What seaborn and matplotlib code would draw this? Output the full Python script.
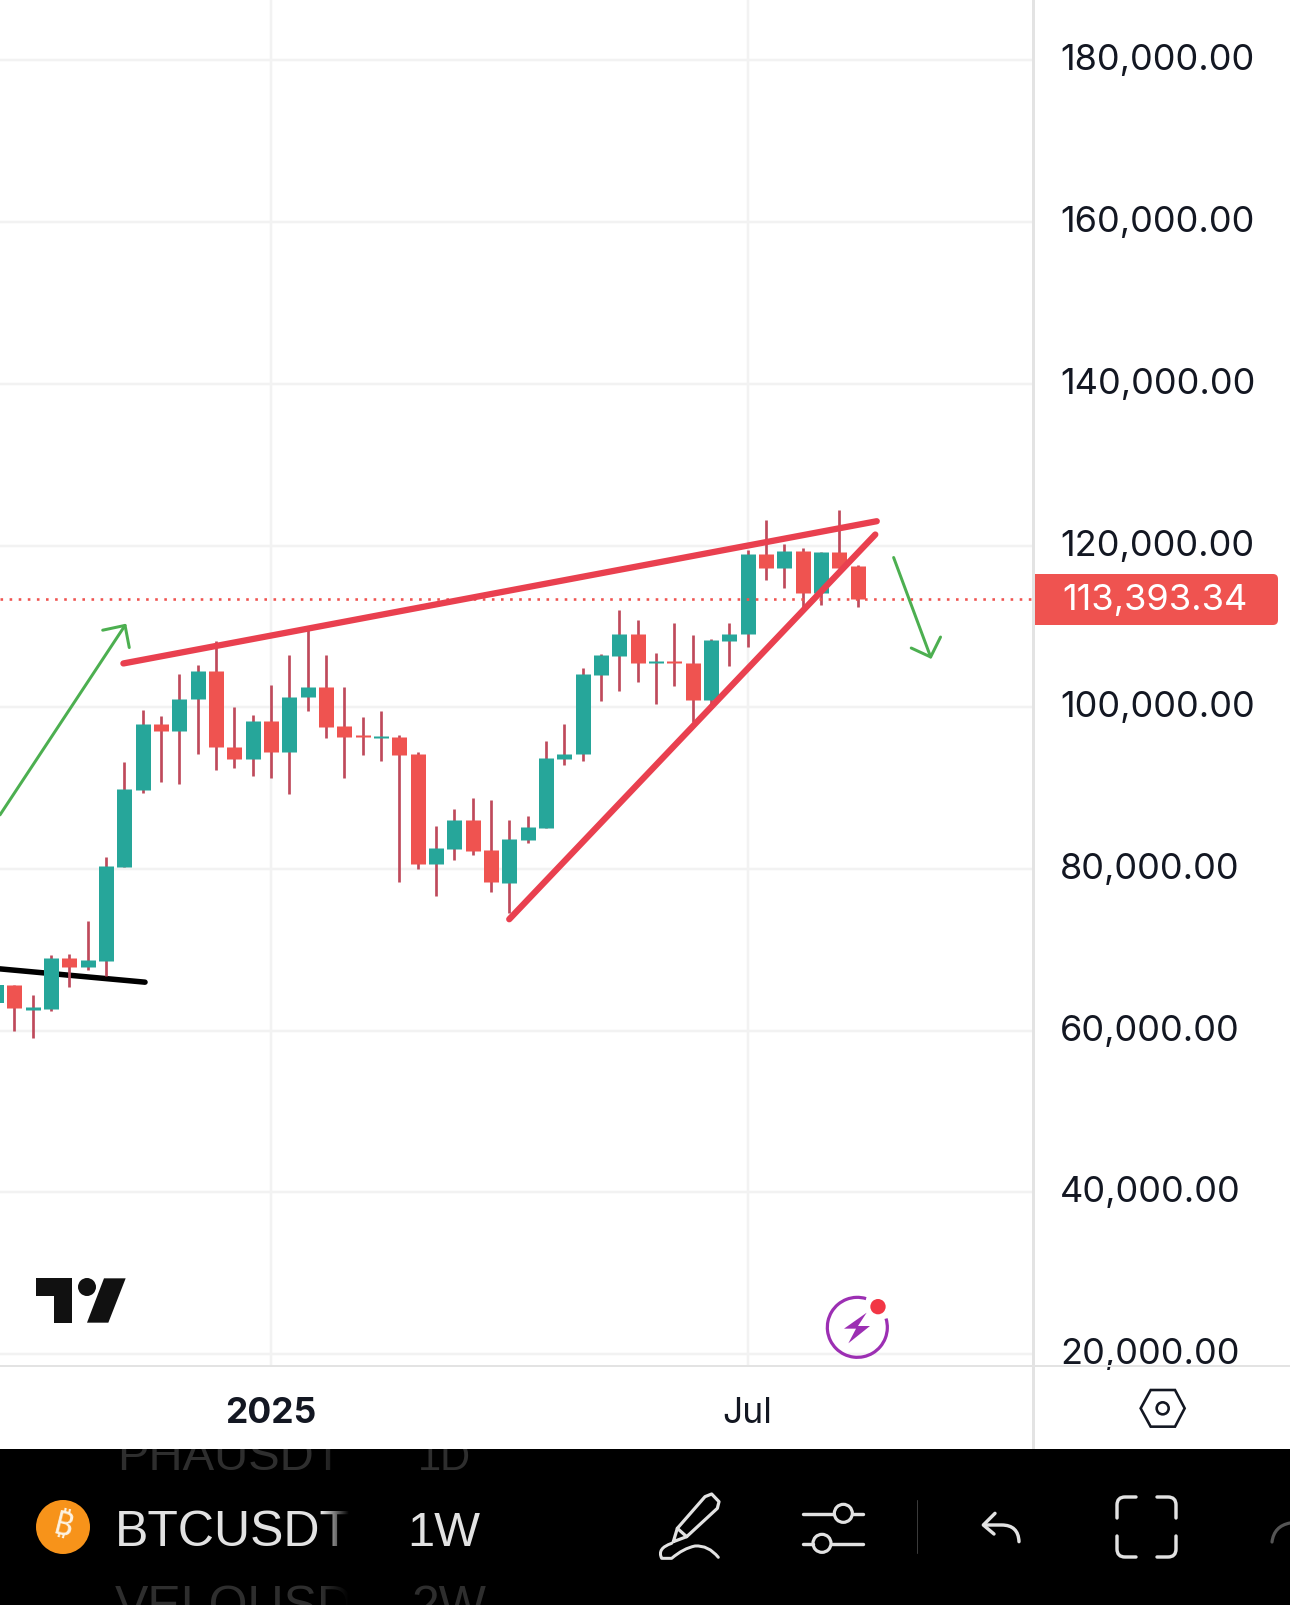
import numpy as np
import pandas as pd
import seaborn as sns
import matplotlib
matplotlib.use("Agg")
import matplotlib.pyplot as plt
from matplotlib.patches import Rectangle, Circle, Polygon, Arc, PathPatch, FancyBboxPatch
from matplotlib.path import Path
from matplotlib import transforms as mtrans

# ---------- data ----------
opens = [63492,65685,62626,62717,69019,67878,68654,80300,89800,97883,97061,101034,
         104459,95143,93635,98340,94504,101263,102541,97654,96513,96147,96284,94184,
         80666,82492,86055,82355,78316,83583,85105,93623,94200,103952,106298,109014,
         105475,105763,105516,100866,108191,109014,119013,117161,119383,114116,119260,117408]
closes = [65685,62808,62945,69019,67878,68745,80346,89891,97883,97061,101080,104459,
          95143,93635,98340,94504,101308,102541,97563,96330,96284,96421,94092,80666,
          82538,86055,82264,78336,83666,85146,93665,94282,104076,106421,109014,105475,
          105763,105516,100866,108273,109096,119013,117161,119383,114116,119260,117244,113393]
highs = [65900,65685,64452,69340,69476,73588,81534,93225,99618,98888,104094,105190,
         108159,100030,99024,102724,106423,109757,106423,102450,98750,99527,96513,94413,
         85324,87424,88749,88521,86052,86546,95805,97903,104899,106627,111977,110742,
         106750,110454,108890,108478,110454,119466,123210,120207,119671,119260,124445,117531]
lows = [63100,59977,59063,62444,65366,67513,66827,80300,89389,90805,90484,94229,
        92266,92494,91489,91261,89297,99573,96238,91261,94092,93316,78336,79981,
        76646,81122,81670,77205,74612,83171,85105,92841,93377,100784,102018,103129,
        100372,102635,98191,100042,105105,107450,115762,114733,112182,112594,117244,112388]
last_price = 113393.34
price_ticks = [20000,40000,60000,80000,100000,120000,140000,160000,180000]
week_ticks = [15, 41]
week_labels = ["2025", "Jul"]

upper_trend_x, upper_trend_y = [6.95, 48.05], [105418, 123005]
lower_trend_x, lower_trend_y = [28.0, 47.97], [73788, 121359]
black_trend_x, black_trend_y = [0.218, 8.13], [67650, 66005]
up_arrow_x, up_arrow_y = [0.218, 7.04], [86694, 110122]
up_head_x, up_head_y = [5.82, 7.04, 7.27], [109529, 110122, 107382]
down_arrow_x, down_arrow_y = [48.97, 50.99], [118519, 106215]
down_head_x, down_head_y = [49.93, 50.99, 51.53], [107326, 106215, 108684]

TEAL, RED, WICK = "#26a69a", "#ef5350", "#bf4a5b"
TREND, GREEN, INK = "#e9404f", "#4caf50", "#131722"
GRID, EDGE = "#f2f2f2", "#e3e3e3"

# ---------- frame ----------
sns.set_theme(style="white")
plt.rcParams["font.family"] = ["Inter", "DejaVu Sans"]
W, H = 1290, 1605
PT = 0.72
fig = plt.figure(figsize=(W / 100, H / 100), dpi=100, facecolor="white")
def box(x0, y0, x1, y1):
    return [x0 / W, 1 - y1 / H, (x1 - x0) / W, (y1 - y0) / H]

AX_R, AX_B = 1033, 1366
PX_PER_20K = 161.74
ax = fig.add_axes(box(0, 0, AX_R, AX_B), zorder=1)
ax.set_facecolor("white")
XLIM = (1 - 14.33 / 18.33, 1 + (AX_R - 14.33) / 18.33)
YLIM = (80000 - (AX_B - 869) * 20000 / PX_PER_20K, 80000 + 869 * 20000 / PX_PER_20K)
sns.despine(ax=ax, left=True, bottom=True, right=True, top=True)

idx = np.arange(len(opens))
df = pd.DataFrame(dict(i=idx, o=opens, h=highs, l=lows, c=closes))
df["dir"] = np.where(df.c >= df.o, "up", "down")
wicks = df.melt(id_vars=["i"], value_vars=["h", "l"], value_name="price")
bodies = df.melt(id_vars=["i", "dir"], value_vars=["o", "c"], value_name="price")

def seg(x, y, color, lw_px, z, cap="round", **kw):
    sns.lineplot(x=x, y=y, color=color, lw=lw_px * PT, ax=ax, sort=False, estimator=None,
                 solid_capstyle=cap, solid_joinstyle="round", zorder=z, legend=False, **kw)

seg(black_trend_x, black_trend_y, "black", 5.5, 1.5)
sns.lineplot(data=wicks, x="i", y="price", units="i", estimator=None, color=WICK,
             lw=2.7 * PT, solid_capstyle="butt", ax=ax, zorder=2, legend=False)
sns.lineplot(data=bodies, x="i", y="price", units="i", estimator=None, hue="dir",
             palette={"up": TEAL, "down": RED}, lw=15 * PT, solid_capstyle="butt",
             ax=ax, zorder=3, legend=False)
# the first body's centre lies off the canvas, where a stroked line is culled: fill it as a bar
first = df.iloc[0]
ax.bar(first.i, first.c - first.o, bottom=first.o, width=15 / 18.33, color=TEAL, lw=0, zorder=3)
ax.axhline(last_price, color=RED, lw=2.6 * PT, ls=(0, (1.0, 2.5)), zorder=4)
seg(upper_trend_x, upper_trend_y, TREND, 6.3, 5)
seg(lower_trend_x, lower_trend_y, TREND, 6.3, 5)
for xs, ys in [(up_arrow_x, up_arrow_y), (up_head_x, up_head_y),
               (down_arrow_x, down_arrow_y), (down_head_x, down_head_y)]:
    seg(xs, ys, GREEN, 3, 5)
ax.set_xlabel(""); ax.set_ylabel("")
ax.set_xlim(XLIM); ax.set_ylim(YLIM)

ax.set_xticks(week_ticks)
ax.set_yticks(price_ticks, [f"{v:,.2f}" for v in price_ticks])
ax.yaxis.tick_right()
ax.tick_params(axis="x", length=0, labelbottom=False)
ax.tick_params(axis="y", length=0, pad=27 * PT, labelsize=26, labelcolor=INK)
shift = mtrans.ScaledTranslation(0, 3 / 100, fig.dpi_scale_trans)
for t in ax.get_yticklabels():
    t.set_transform(t.get_transform() + shift)
ax.grid(True, color=GRID, lw=2.5 * PT)
ax.set_axisbelow(True)

# time-scale strip
strip = fig.add_axes(box(0, AX_B, AX_R, 1449), zorder=2)
strip.set_facecolor("white")
strip.set_xlim(XLIM); strip.set_yticks([])
strip.set_xticks(week_ticks, week_labels)
strip.tick_params(axis="x", length=0, pad=-52 * PT, labelsize=25.5, labelcolor=INK)
strip.get_xticklabels()[0].set_fontweight("bold")
strip.grid(False)
sns.despine(ax=strip, left=True, bottom=True, right=True, top=True)

# ---------- overlay in pixel coordinates (app chrome) ----------
ov = fig.add_axes([0, 0, 1, 1], zorder=3)
ov.set_xlim(0, W); ov.set_ylim(H, 0); ov.axis("off"); ov.patch.set_alpha(0)

ov.add_patch(Rectangle((1033 - 1.5, 0), 3, 1449, color=EDGE, lw=0))
ov.add_patch(Rectangle((0, 1364.7), W, 2.6, color=EDGE, lw=0))

# last-price tag
ov.add_patch(Rectangle((1035, 574), 225, 51, color=RED, lw=0))
ov.add_patch(FancyBboxPatch((1250, 574), 28, 51, boxstyle="round,pad=0,rounding_size=5",
                            fc=RED, ec="none", lw=0))
ov.text(1062, 610, f"{last_price:,.2f}", color="white", fontsize=26, va="baseline", ha="left")

# TradingView logo
z4 = lambda x, y: (x / 3, 1260 + y / 3)
ov.add_patch(Polygon([z4(*p) for p in [(108,55),(216,55),(216,188),(162,188),(162,108),(108,108)]], fc="#111111", lw=0))
ov.add_patch(Polygon([z4(*p) for p in [(312,55),(377,55),(325,188),(261,188)]], fc="#111111", lw=0))
ov.add_patch(Circle(z4(261, 81), 27 / 3, fc="#111111", lw=0))

# lightning badge
z5 = lambda x, y: (640 + x / 3, 1280 + y / 3)
PURPLE = "#9c2fb3"
ov.add_patch(Arc(z5(652, 142), 60, 60, theta1=-17, theta2=287, color=PURPLE, lw=3.2 * PT))
ov.add_patch(Polygon([z5(*p) for p in [(680,98),(612,146),(648,146),(625,190),(690,138),(654,138)]], fc=PURPLE, lw=0))
ov.add_patch(Circle(z5(714, 80), 23 / 3, fc="#f23645", lw=0))

# hexagon settings icon
z7 = lambda x, y: (1020 + x / 3, 1290 + y / 3)
ov.add_patch(Polygon([z7(*p) for p in [(362,355),(392,300),(465,300),(494,355),(465,410),(392,410)]],
                     fc="none", ec=INK, lw=2.6 * PT, joinstyle="miter"))
ov.add_patch(Circle(z7(428, 355), 18 / 3, fc="none", ec=INK, lw=2.6 * PT))

# bottom black bar
bar = Rectangle((0, 1449), W, H - 1449, fc="black", lw=0)
ov.add_patch(bar)
LIGHT, DIM = "#e2e2e2", "#2e2e2e"
for x, y, s, c, fs in [(117, 1470, "PHAUSDT", DIM, 34), (418, 1470, "1D", DIM, 30),
                       (115, 1621, "VELOUSDT", DIM, 36), (411, 1621, "2W", DIM, 36),
                       (115, 1546, "BTCUSDT", LIGHT, 36), (407, 1546, "1W", LIGHT, 35)]:
    t = ov.text(x, y, s, color=c, fontsize=fs, family="Liberation Sans", va="baseline", ha="left")
    t.set_clip_on(True)
    t.set_clip_path(bar)
# fade of the symbol column
ov.add_patch(Rectangle((349, 1449), 50, H - 1449, fc="black", lw=0, zorder=3))
grad = np.zeros((1, 64, 4)); grad[..., 3] = np.linspace(0, 1, 64)
ov.imshow(grad, extent=(322, 349, H, 1449), aspect="auto", zorder=3)
ov.set_xlim(0, W); ov.set_ylim(H, 0)

# BTC badge
ov.add_patch(Circle(z4(189, 801), 27, fc="#f7931a", lw=0, zorder=4))
ov.text(63, 1527, "\u20bf", color="#fdf3e3", fontsize=24, fontweight="bold",
        family=["Noto Sans", "Inter", "Roboto", "Open Sans", "Lato", "DejaVu Sans"],
        rotation=-14, ha="center", va="center", zorder=5)

def stroke(verts, codes=None, lw=3.2, color=LIGHT):
    ov.add_patch(PathPatch(Path(verts, codes), fc="none", ec=color, lw=lw * PT,
                           capstyle="round", joinstyle="round", zorder=4))
M, L, C3, C4 = Path.MOVETO, Path.LINETO, Path.CURVE3, Path.CURVE4
# pen
stroke([z5(*p) for p in [(100,785),(112,745),(195,650),(215,642),(237,665),(232,685),(140,770),(100,785)]])
stroke([z5(112,745), z5(140,770)])
stroke([z5(*p) for p in [(95,790),(50,805),(65,835),(95,835),(130,805),(165,798),(205,795),(235,832)]],
       [M, C3, C3, L, C3, C3, C3, C3], lw=3)
# sliders
for a, b in [((490,703),(580,703)), ((640,703),(668,703)), ((490,792),(518,792)), ((575,792),(668,792))]:
    stroke([z5(*a), z5(*b)], lw=3.4)
for c in [(610,700), (546,790)]:
    ov.add_patch(Circle(z5(*c), 9, fc="none", ec=LIGHT, lw=3.2 * PT, zorder=4))
# divider
stroke([z5(832,660), z5(832,820)], lw=1, color="#3a3a3a")
# undo
stroke([z5(1137,785), z5(1135,735), z5(1085,735), z5(1032,735)], [M, C3, C3, L], lw=3.4)
stroke([z5(1065,700), z5(1030,735), z5(1062,762)], lw=3.4)
# full-screen brackets
r = 8
for sx, x in [(1, 1117), (-1, 1176)]:
    for sy, y in [(1, 1497), (-1, 1557)]:
        stroke([(x, y + sy * 21), (x, y + sy * r), (x, y), (x + sx * r, y), (x + sx * 19, y)],
               [M, L, C3, C3, L], lw=3.4)
# partly hidden next icon
stroke([(1272, 1542), (1274, 1526), (1290, 1523)], [M, C3, C3], lw=3.2, color="#555555")

fig.savefig("out.png", dpi=100, facecolor="white")
